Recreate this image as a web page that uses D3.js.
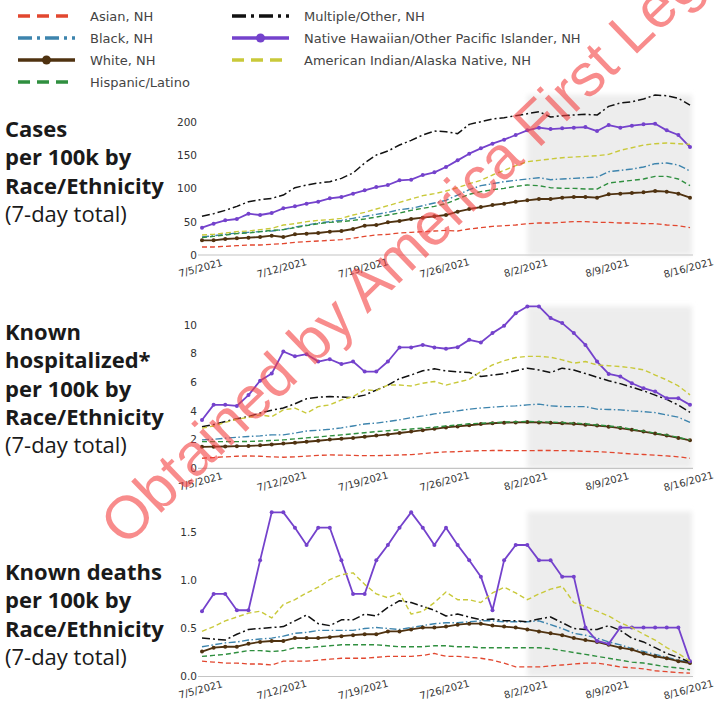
<!DOCTYPE html>
<html>
<head>
<meta charset="utf-8">
<script src="https://cdn.jsdelivr.net/npm/d3@7"></script>
<style>
  html, body { margin: 0; padding: 0; background: #fff; }
  svg { display: block; }
</style>
</head>
<body>
<svg id="chart" width="716" height="712"></svg>
<script>
// Daily 7-day totals per 100k, 7/5/2021 – 8/16/2021
const startDate = new Date(2021, 6, 5);
const endDate = new Date(2021, 7, 16);
const shadeStart = new Date(2021, 7, 2);
const tickDates = ["7/5/2021", "7/12/2021", "7/19/2021", "7/26/2021", "8/2/2021", "8/9/2021", "8/16/2021"];

const groups = ["Asian, NH", "Black, NH", "White, NH", "Hispanic/Latino",
  "Multiple/Other, NH", "Native Hawaiian/Other Pacific Islander, NH", "American Indian/Alaska Native, NH"];

// Cases per 100k
const casesAsian = [12,12,13,14,15,15,16,17,19,20,21,22,23,25,28,30,31,33,34,35,36,37,36,39,41,43,44,45,47,48,48,49,50,50,49,49,48,48,47,47,45,44,41];
const casesBlack = [27,29,31,33,34,35,36,38,42,45,48,50,52,55,58,61,64,68,70,74,78,82,90,98,104,107,110,112,114,116,113,114,115,116,117,125,127,129,132,137,138,135,126];
const casesWhite = [22,22,24,25,26,27,29,27,31,32,33,35,36,39,44,45,49,51,54,56,58,60,65,69,72,75,77,80,82,84,84,86,87,87,86,91,92,93,94,96,95,92,86];
const casesHispanic = [26,28,30,32,33,35,37,38,41,44,47,49,50,52,54,57,60,63,67,70,73,77,84,91,95,98,100,103,105,104,101,100,100,99,99,108,110,112,114,118,118,114,104];
const casesMultiple = [58,62,67,73,80,83,85,90,101,105,108,110,115,123,138,150,156,165,172,180,186,185,182,196,200,204,206,209,212,215,207,209,210,211,210,223,228,230,234,240,239,235,225];
const casesNHPI = [41,47,52,54,62,60,63,70,73,77,80,85,87,92,97,102,105,112,113,120,124,132,142,152,160,167,173,180,187,191,189,190,191,192,186,195,191,194,196,197,187,180,162];
const casesAIAN = [30,31,33,35,36,38,40,45,47,50,52,53,55,60,64,69,74,79,84,89,92,96,101,107,112,120,127,134,140,142,144,146,147,148,149,151,157,161,165,167,168,167,166];

// Known hospitalized per 100k
const hospAsian = [0.7,0.75,0.8,0.84,0.86,0.84,0.8,0.77,0.8,0.85,0.9,0.93,0.92,0.9,0.88,0.88,0.9,0.93,0.95,1.02,1.1,1.14,1.16,1.2,1.23,1.24,1.24,1.23,1.23,1.24,1.24,1.23,1.22,1.18,1.16,1.12,1.06,1.0,0.96,0.92,0.86,0.8,0.7];
const hospBlack = [1.98,2.02,2.1,2.16,2.22,2.26,2.33,2.33,2.45,2.6,2.65,2.72,2.82,2.95,3.09,3.15,3.26,3.38,3.53,3.65,3.79,3.9,4.0,4.12,4.2,4.26,4.32,4.35,4.42,4.47,4.35,4.3,4.3,4.3,4.12,4.1,4.07,4.0,3.95,3.88,3.72,3.56,3.2];
const hospWhite = [1.5,1.51,1.52,1.54,1.56,1.6,1.66,1.72,1.78,1.85,1.92,2.0,2.06,2.12,2.2,2.28,2.36,2.46,2.56,2.66,2.75,2.85,2.92,3.0,3.08,3.14,3.18,3.2,3.22,3.2,3.17,3.14,3.1,3.04,2.98,2.9,2.8,2.68,2.56,2.42,2.28,2.12,1.95];
const hospHispanic = [1.86,1.86,1.86,1.86,1.87,1.9,1.94,1.98,2.05,2.12,2.18,2.26,2.33,2.4,2.48,2.56,2.62,2.68,2.74,2.8,2.86,2.95,3.02,3.1,3.14,3.18,3.22,3.24,3.26,3.25,3.22,3.19,3.15,3.1,3.02,2.95,2.86,2.72,2.6,2.45,2.33,2.15,1.98];
const hospMultiple = [2.9,3.05,3.26,3.45,3.6,3.85,4.05,4.2,4.5,4.85,4.95,5.0,4.97,4.93,5.1,5.45,5.8,6.25,6.5,6.8,6.93,6.79,6.72,6.67,6.4,6.5,6.6,6.8,6.98,6.85,6.67,6.98,6.85,6.6,6.35,6.1,5.9,5.65,5.4,5.1,4.8,4.4,3.9];
const hospNHPI = [3.37,4.42,4.42,4.35,5.1,6.1,6.6,8.14,7.8,7.95,7.44,7.6,7.26,7.44,6.74,6.74,7.44,8.42,8.42,8.6,8.42,8.33,8.44,8.95,8.77,9.42,9.93,10.81,11.28,11.28,10.47,10.12,9.42,8.6,7.44,6.58,6.4,5.93,5.58,5.35,4.88,4.88,4.42];
const hospAIAN = [2.8,2.95,3.2,3.42,3.55,3.72,3.6,4.07,4.19,3.84,4.3,4.42,4.77,5.0,5.47,5.42,5.8,5.8,5.74,5.93,6.05,5.8,6.0,6.2,6.74,7.2,7.5,7.72,7.8,7.8,7.74,7.56,7.33,7.44,7.2,7.15,7.09,7.0,6.86,6.5,6.16,5.74,5.12];

// Known deaths per 100k
const deathsAsian = [0.16,0.15,0.14,0.14,0.13,0.13,0.12,0.16,0.16,0.16,0.17,0.18,0.19,0.19,0.19,0.2,0.21,0.21,0.21,0.22,0.24,0.21,0.21,0.2,0.19,0.17,0.14,0.1,0.1,0.1,0.11,0.12,0.13,0.14,0.14,0.12,0.1,0.09,0.08,0.06,0.05,0.04,0.035];
const deathsBlack = [0.31,0.33,0.35,0.36,0.38,0.39,0.4,0.42,0.45,0.46,0.48,0.48,0.48,0.48,0.5,0.51,0.5,0.49,0.51,0.53,0.55,0.56,0.56,0.57,0.58,0.58,0.57,0.57,0.57,0.58,0.54,0.5,0.45,0.43,0.4,0.36,0.33,0.29,0.26,0.23,0.2,0.17,0.15];
const deathsWhite = [0.26,0.3,0.31,0.31,0.34,0.36,0.37,0.37,0.4,0.4,0.4,0.41,0.42,0.43,0.44,0.44,0.47,0.47,0.49,0.51,0.51,0.52,0.54,0.55,0.55,0.53,0.52,0.51,0.49,0.47,0.45,0.43,0.4,0.38,0.36,0.33,0.3,0.28,0.24,0.21,0.19,0.16,0.14];
const deathsHispanic = [0.21,0.22,0.23,0.25,0.27,0.27,0.26,0.27,0.3,0.3,0.31,0.32,0.33,0.33,0.33,0.33,0.32,0.31,0.31,0.31,0.32,0.32,0.31,0.31,0.3,0.3,0.3,0.3,0.3,0.3,0.29,0.27,0.25,0.23,0.21,0.19,0.17,0.15,0.14,0.12,0.1,0.09,0.07];
const deathsMultiple = [0.4,0.39,0.38,0.44,0.49,0.5,0.51,0.52,0.58,0.64,0.55,0.53,0.59,0.59,0.65,0.63,0.72,0.79,0.77,0.73,0.69,0.63,0.65,0.62,0.59,0.6,0.58,0.58,0.57,0.6,0.62,0.56,0.5,0.49,0.49,0.53,0.48,0.4,0.36,0.3,0.24,0.2,0.15];
const deathsNHPI = [0.68,0.86,0.86,0.69,0.69,1.21,1.71,1.71,1.55,1.37,1.55,1.55,1.21,0.86,0.86,1.21,1.37,1.55,1.71,1.55,1.37,1.55,1.37,1.21,1.04,0.69,1.21,1.37,1.37,1.21,1.21,1.04,1.04,0.51,0.37,0.34,0.51,0.51,0.51,0.51,0.51,0.51,0.16];
const deathsAIAN = [0.47,0.52,0.58,0.62,0.66,0.68,0.61,0.75,0.8,0.87,0.93,1.01,1.06,1.08,0.96,0.86,0.82,0.87,0.65,0.68,0.77,0.88,0.8,0.8,0.77,0.87,0.93,0.87,0.8,0.86,0.91,0.94,0.77,0.73,0.68,0.63,0.56,0.51,0.44,0.38,0.3,0.24,0.16];

const casesTicks = [0, 50, 100, 150, 200];
const hospTicks = [0, 2, 4, 6, 8, 10];
const deathsTicks = [0.0, 0.5, 1.0, 1.5];

// Line styling per group (same order as `groups`)
const styles = [
  { color: "#e2472f", dash: "5,3", width: 1.3, marker: false },
  { color: "#3d84ad", dash: "7,2.5,1.5,2.5", width: 1.4, marker: false },
  { color: "#4f3210", dash: null, width: 1.8, marker: true },
  { color: "#2f8f3f", dash: "5,3", width: 1.4, marker: false },
  { color: "#111111", dash: "8,3,2,3", width: 1.5, marker: false },
  { color: "#7442cc", dash: null, width: 1.8, marker: true },
  { color: "#c9c93a", dash: "5,3", width: 1.4, marker: false }
];

const panels = [
  { series: [casesAsian, casesBlack, casesWhite, casesHispanic, casesMultiple, casesNHPI, casesAIAN],
    yMax: 240, yZero: 255, pxPerUnit: 0.6665, ticks: casesTicks, fmt: d3.format("d"),
    title: [["Cases", true], ["per 100k by", true], ["Race/Ethnicity", true], ["(7-day total)", false]],
    titleY: 137 },
  { series: [hospAsian, hospBlack, hospWhite, hospHispanic, hospMultiple, hospNHPI, hospAIAN],
    yMax: 11.3, yZero: 468.3, pxPerUnit: 14.35, ticks: hospTicks, fmt: d3.format("d"),
    title: [["Known", true], ["hospitalized*", true], ["per 100k by", true], ["Race/Ethnicity", true], ["(7-day total)", false]],
    titleY: 340 },
  { series: [deathsAsian, deathsBlack, deathsWhite, deathsHispanic, deathsMultiple, deathsNHPI, deathsAIAN],
    yMax: 1.72, yZero: 676.5, pxPerUnit: 96, ticks: deathsTicks, fmt: d3.format(".1f"),
    title: [["Known deaths", true], ["per 100k by", true], ["Race/Ethnicity", true], ["(7-day total)", false]],
    titleY: 580 }
];

const svg = d3.select("#chart");
const dates = d3.timeDay.range(startDate, d3.timeDay.offset(endDate, 1));
const parseTick = d3.timeParse("%m/%d/%Y");
const tickValues = tickDates.map(s => parseTick(s));
const fmtDate = d => `${d.getMonth() + 1}/${d.getDate()}/${d.getFullYear()}`;

const x = d3.scaleTime().domain([startDate, endDate]).range([202, 690]);

const defs = svg.append("defs");
defs.append("filter").attr("id", "soft").attr("x", "-10%").attr("y", "-10%").attr("width", "120%").attr("height", "120%")
  .append("feGaussianBlur").attr("stdDeviation", 2.5);

panels.forEach(p => {
  const y = d3.scaleLinear().domain([0, p.yMax]).range([p.yZero, p.yZero - p.yMax * p.pxPerUnit]);
  const g = svg.append("g");

  // shaded recent period
  g.append("rect")
    .attr("x", x(shadeStart)).attr("y", y(p.yMax))
    .attr("width", x(endDate) - x(shadeStart) + 2).attr("height", y(0) - y(p.yMax))
    .attr("fill", "#ededed").attr("filter", "url(#soft)");

  // x axis: date labels tilted about their own centre
  const xa = g.append("g").attr("transform", `translate(0,${y(0)})`)
    .call(d3.axisBottom(x).tickValues(tickValues).tickFormat(fmtDate).tickSize(0));
  xa.select(".domain").attr("stroke", "#c4c4c4").attr("stroke-width", 1.2)
    .attr("d", `M${x(startDate) - 4},0H${x(endDate) + 3}`);
  xa.selectAll("text")
    .attr("font-family", "DejaVu Sans").attr("font-size", 10).attr("fill", "#333")
    .attr("y", 0).attr("dy", "0.35em").attr("text-anchor", "middle")
    .attr("transform", "translate(-2,13) rotate(-15)");

  // y axis
  const ya = g.append("g").attr("transform", `translate(197,0)`)
    .call(d3.axisLeft(y).tickValues(p.ticks).tickFormat(p.fmt).tickSize(0).tickPadding(0));
  ya.select(".domain").remove();
  ya.selectAll("text").attr("font-family", "DejaVu Sans").attr("font-size", 10.5).attr("fill", "#333");

  // lines
  const line = d3.line().x((d, i) => x(dates[i])).y(d => y(d));
  p.series.forEach((vals, k) => {
    const s = styles[k];
    g.append("path").datum(vals)
      .attr("d", line).attr("fill", "none")
      .attr("stroke", s.color).attr("stroke-width", s.width)
      .attr("stroke-dasharray", s.dash).attr("stroke-linejoin", "round");
    if (s.marker) {
      g.append("g").selectAll("circle").data(vals).join("circle")
        .attr("cx", (d, i) => x(dates[i])).attr("cy", d => y(d)).attr("r", 2)
        .attr("fill", s.color);
    }
  });

  // panel title
  const t = svg.append("text").attr("x", 5).attr("y", p.titleY)
    .attr("font-family", "Open Sans").attr("font-size", 22).attr("fill", "#1a1a1a");
  p.title.forEach(([txt, bold], i) => {
    t.append("tspan").attr("x", 5).attr("dy", i === 0 ? 0 : 28.3)
      .attr("font-weight", bold ? 700 : 400).text(txt);
  });
});

// legend
const legendPos = [[18, 16], [18, 38], [18, 60], [18, 82], [232, 16], [232, 38], [232, 60]];
const lg = svg.append("g");
groups.forEach((name, k) => {
  const s = styles[k];
  const [lx, ly] = legendPos[k];
  lg.append("line").attr("x1", lx).attr("x2", lx + 57).attr("y1", ly).attr("y2", ly)
    .attr("stroke", s.color).attr("stroke-width", 3.5)
    .attr("stroke-dasharray", s.dash ? (k === 1 || k === 4 ? "14,5,3,5" : "12,7") : null);
  if (s.marker) {
    lg.append("circle").attr("cx", lx + 28.5).attr("cy", ly).attr("r", 4.5).attr("fill", s.color);
  }
  lg.append("text").attr("x", lx + 72).attr("y", ly).attr("dy", "0.35em")
    .attr("font-family", "DejaVu Sans").attr("font-size", 13).attr("fill", "#444").text(name);
});

// watermark
svg.append("text")
  .attr("transform", "translate(125,548) rotate(-44)")
  .attr("font-family", "Liberation Sans").attr("font-size", 60)
  .attr("fill", "#f44040").attr("fill-opacity", 0.6)
  .text("Obtained by America First Legal");
</script>
</body>
</html>
